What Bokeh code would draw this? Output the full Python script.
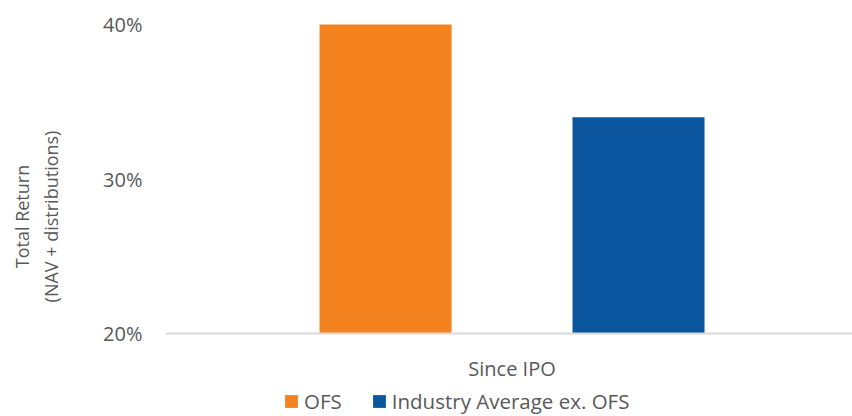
from bokeh.plotting import figure
from bokeh.models import (ColumnDataSource, Range1d, FixedTicker, NumeralTickFormatter,
                          Legend, LegendItem, Span)
from bokeh.embed import file_html
from bokeh.resources import INLINE

categories = ["OFS", "Industry Average ex. OFS"]
values = [0.400, 0.340]
colors = ["#F4831F", "#0C56A0"]
period = "Since IPO"
y_ticks = [0.2, 0.3, 0.4]
baseline = 0.2

FONT = "Open Sans"
TXT = "#595959"

src = ColumnDataSource(dict(x=list(range(len(categories))), top=values,
                            cat=categories, color=colors))

p = figure(width=852, height=416, output_backend="svg", toolbar_location=None,
           x_range=Range1d(-0.87, 1.846), y_range=Range1d(0.14628, 0.40518),
           min_border_left=165, min_border_right=0, min_border_top=16,
           min_border_bottom=0)
p.outline_line_color = None
p.xgrid.visible = False
p.ygrid.visible = False
p.xaxis.visible = False

r = p.vbar(x="x", top="top", bottom=baseline, width=0.522, color="color", source=src,
           line_color=None)

# baseline (category axis line)
p.add_layout(Span(location=baseline, dimension="width", line_color="#d9d9d9",
                  line_width=2))

# y axis
ya = p.yaxis[0]
ya.ticker = FixedTicker(ticks=y_ticks)
ya.formatter = NumeralTickFormatter(format="0%")
ya.axis_line_color = None
ya.major_tick_line_color = None
ya.minor_tick_line_color = None
ya.major_tick_out = 0
ya.major_tick_in = 0
ya.minor_tick_out = 0
ya.minor_tick_in = 0
ya.major_label_standoff = 23
ya.major_label_text_font = FONT
ya.major_label_text_font_size = "20px"
ya.major_label_text_color = TXT
ya.axis_label = "Total Return\n(NAV + distributions)"
ya.axis_label_text_font = FONT
ya.axis_label_text_font_size = "18px"
ya.axis_label_text_font_style = "normal"
ya.axis_label_text_color = TXT
ya.axis_label_standoff = 37

# category group label
group_center = (len(categories) - 1) / 2
p.text(x=[group_center], y=[baseline], text=[period], y_offset=35,
       text_align="center", text_baseline="middle", text_font_size="20px",
       text_color=TXT, text_font={"value": FONT})

legend = Legend(items=[LegendItem(label=categories[i], renderers=[r], index=i)
                       for i in range(len(categories))],
                orientation="horizontal", location=(118, 1))
legend.glyph_width = 16
legend.glyph_height = 16
legend.label_standoff = 5
legend.spacing = 29
legend.padding = 0
legend.margin = 0
legend.border_line_color = None
legend.background_fill_alpha = 0
legend.label_text_font = FONT
legend.label_text_font_size = "20.5px"
legend.label_text_color = TXT
p.add_layout(legend, "center")

open("out.html", "w").write(file_html(p, INLINE))
